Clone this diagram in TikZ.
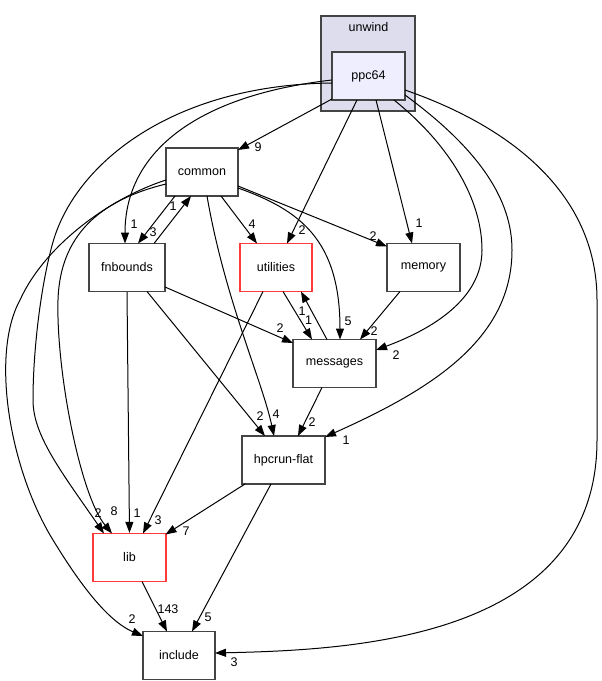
\documentclass[tikz,border=0pt]{standalone}
\usepackage{fontspec}
\setmainfont{Liberation Sans}
\usetikzlibrary{arrows.meta,calc}
\definecolor{bord}{HTML}{444444}
\definecolor{redb}{HTML}{FF3a3a}
\definecolor{clfill}{HTML}{DDDDEE}
\definecolor{nfill}{HTML}{EEEEFF}
\begin{document}
\begin{tikzpicture}[x=0.75pt,y=-0.75pt,
  txt/.style={font=\fontsize{9.4}{11}\selectfont},
  box/.style={txt,draw=bord,line width=1pt,fill=white,minimum height=36pt,inner sep=0pt},
  redbox/.style={box,draw=redb},
  edge/.style={line width=0.75pt,-{Triangle[length=8.25pt,width=6pt]}},
  lbl/.style={txt,inner sep=0pt}]
\useasboundingbox (0,0) rectangle (601,681);
% cluster
\node[draw=bord,fill=clfill,line width=1pt,minimum width=70.5pt,minimum height=71.25pt,inner sep=0pt] (unwind) at (368,63.5) {};
\node[lbl] (unwindlbl) at (368.5,27) {unwind};
% nodes
\node[box,fill=nfill,minimum width=54.75pt] (ppc64) at (368.5,76) {ppc64};
\node[box,minimum width=54pt] (common) at (202,172) {common};
\node[box,minimum width=57pt] (fnbounds) at (127,267.5) {fnbounds};
\node[redbox,minimum width=54pt] (utilities) at (276,267.5) {utilities};
\node[box,minimum width=54.75pt] (memory) at (423.5,267.5) {memory};
\node[box,minimum width=62.25pt] (messages) at (334.5,363.5) {messages};
\node[box,minimum width=62.25pt] (hpcrun) at (283.5,460) {hpcrun-flat};
\node[redbox,minimum width=54.75pt] (lib) at (129.5,557.5) {lib};
\node[box,minimum width=54pt] (include) at (179,655.5) {include};
% edges from ppc64
\draw[edge] ($(ppc64)+(-36.5,23)$) -- ($(common)+(36,-22)$);
\draw[edge] ($(ppc64)+(-11.5,24)$) -- ($(utilities)+(11,-24)$);
\draw[edge] ($(ppc64)+(7.5,24)$) -- ($(memory)+(-11.5,-24)$);
\draw[edge] ($(ppc64)+(-36.5,4)$) .. controls (200,95) and (125,150) .. ($(fnbounds)+(-2,-24)$);
\draw[edge] ($(ppc64)+(-36.5,7)$) .. controls (170,85) and (75,165) .. (53,242)
   .. controls (41,284) and (33,350) .. (33,400) .. controls (33,435) and (60,470) .. ($(lib)+(-25.5,-24)$);
\draw[edge] ($(ppc64)+(25.5,24)$) .. controls (450,145) and (482,200) .. (482,250)
   .. controls (482,300) and (430,330) .. ($(messages)+(41.5,-13.5)$);
\draw[edge] ($(ppc64)+(36.5,19)$) .. controls (480,150) and (512,200) .. (512,250)
   .. controls (512,340) and (430,390) .. ($(hpcrun)+(41.5,-23)$);
\draw[edge] ($(ppc64)+(36.5,14)$) .. controls (520,130) and (597,200) .. (597,300) -- (597,440)
   .. controls (597,640) and (350,650) .. ($(include)+(36,-2.5)$);
% edges from common
\draw[edge] ($(common)+(-36,8)$) .. controls (110,198) and (45,245) .. (20,300)
   .. controls (-10,355) and (10,470) .. (53,540) .. controls (75,576) and (105,620) .. ($(include)+(-36,-19.5)$);
\draw[edge] ($(common)+(-36,12)$) .. controls (100,200) and (60,235) .. (58,300)
   .. controls (56,370) and (80,495) .. ($(lib)+(-17.5,-24)$);
\draw[edge] ($(common)+(-27,24)$) -- ($(fnbounds)+(11,-24)$);
\draw[edge] ($(fnbounds)+(27,-24)$) -- ($(common)+(-11,24)$);
\draw[edge] ($(common)+(19,24)$) -- ($(utilities)+(-19,-24)$);
\draw[edge] ($(common)+(36,14)$) -- ($(memory)+(-36.5,-21)$);
\draw[edge] ($(common)+(36,16)$) .. controls (300,210) and (340,240) .. ($(messages)+(5.5,-24)$);
\draw[edge] ($(common)+(5,24)$) .. controls (225,300) and (262,380) .. ($(hpcrun)+(-9.5,-24)$);
% edges from fnbounds
\draw[edge] (fnbounds.south) -- (lib.north);
\draw[edge] ($(fnbounds)+(20,24)$) -- ($(hpcrun)+(-18.5,-24)$);
\draw[edge] ($(fnbounds)+(38,19.5)$) -- ($(messages)+(-41.5,-20.5)$);
% edges from utilities / messages / memory
\draw[edge] ($(utilities)+(-13,24)$) -- ($(lib)+(13.5,-24)$);
\draw[edge] ($(utilities)+(7,24)$) -- ($(messages)+(-22.5,-24)$);
\draw[edge] ($(messages)+(-7.5,-24)$) -- ($(utilities)+(25,24)$);
\draw[edge] ($(memory)+(-23.5,24)$) -- ($(messages)+(25.5,-24)$);
\draw[edge] ($(messages)+(-12.5,24)$) -- ($(hpcrun)+(14.5,-24)$);
% edges from hpcrun-flat and lib
\draw[edge] ($(hpcrun)+(-38.5,24)$) -- ($(lib)+(36,-23)$);
\draw[edge] ($(hpcrun)+(-12.5,24)$) -- ($(include)+(13,-24)$);
\draw[edge] ($(lib)+(12.5,24)$) -- ($(include)+(-12,-24)$);
% labels
\node[lbl] (l1) at (258,147) {9};
\node[lbl] (l2) at (302,230) {2};
\node[lbl] (l3) at (419,223) {1};
\node[lbl] (l4) at (134,224) {1};
\node[lbl] (l5) at (98,513) {2};
\node[lbl] (l6) at (132,619) {2};
\node[lbl] (l7) at (114,511) {8};
\node[lbl] (l8) at (137,513) {1};
\node[lbl] (l9) at (158,520) {3};
\node[lbl] (l10) at (186,531) {7};
\node[lbl] (l11) at (208,617) {5};
\node[lbl] (l12) at (168,609) {143};
\node[lbl] (l13) at (153,232) {3};
\node[lbl] (l14) at (173,206) {1};
\node[lbl] (l15) at (252,224) {4};
\node[lbl] (l16) at (373,236) {2};
\node[lbl] (l17) at (348,321) {5};
\node[lbl] (l18) at (276,414) {4};
\node[lbl] (l19) at (260,416) {2};
\node[lbl] (l20) at (280,328) {2};
\node[lbl] (l21) at (308.5,320) {1};
\node[lbl] (l22) at (302,311) {1};
\node[lbl] (l23) at (374,331) {2};
\node[lbl] (l24) at (312,422) {2};
\node[lbl] (l25) at (396,355) {2};
\node[lbl] (l26) at (346,440) {1};
\node[lbl] (l27) at (234,662) {3};
\end{tikzpicture}
\end{document}
